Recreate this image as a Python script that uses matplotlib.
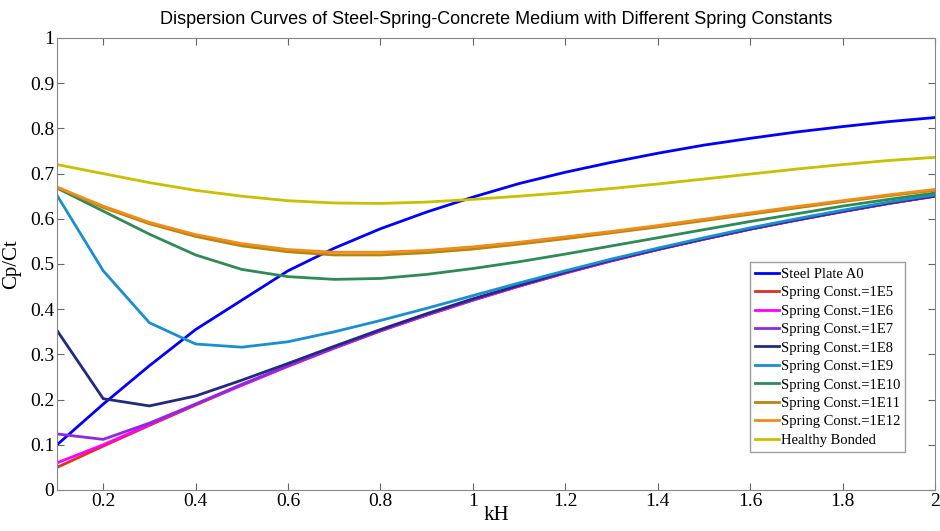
import matplotlib
matplotlib.use("Agg")
import matplotlib.pyplot as plt

kH = [0.1, 0.2, 0.3, 0.4, 0.5, 0.6, 0.7, 0.8, 0.9, 1.0,
      1.1, 1.2, 1.3, 1.4, 1.5, 1.6, 1.7, 1.8, 1.9, 2.0]

steel_a0 = [0.100, 0.190, 0.275, 0.355, 0.420, 0.485, 0.535, 0.578, 0.615, 0.648,
            0.678, 0.703, 0.725, 0.745, 0.763, 0.778, 0.792, 0.804, 0.815, 0.824]
k1e5 = [0.050, 0.097, 0.143, 0.188, 0.232, 0.274, 0.314, 0.352, 0.387, 0.420,
        0.451, 0.480, 0.507, 0.532, 0.555, 0.577, 0.597, 0.616, 0.634, 0.650]
k1e6 = [0.060, 0.100, 0.145, 0.190, 0.232, 0.274, 0.314, 0.352, 0.387, 0.420,
        0.451, 0.480, 0.507, 0.532, 0.555, 0.577, 0.597, 0.616, 0.634, 0.650]
k1e7 = [0.124, 0.112, 0.148, 0.190, 0.234, 0.275, 0.315, 0.353, 0.388, 0.421,
        0.452, 0.481, 0.508, 0.532, 0.555, 0.577, 0.597, 0.616, 0.634, 0.650]
k1e8 = [0.353, 0.202, 0.186, 0.208, 0.243, 0.280, 0.318, 0.355, 0.390, 0.423,
        0.453, 0.482, 0.509, 0.533, 0.556, 0.578, 0.598, 0.617, 0.635, 0.651]
k1e9 = [0.652, 0.485, 0.370, 0.323, 0.316, 0.328, 0.350, 0.375, 0.402, 0.430,
        0.458, 0.485, 0.511, 0.535, 0.558, 0.580, 0.600, 0.619, 0.637, 0.653]
k1e10 = [0.668, 0.617, 0.566, 0.520, 0.488, 0.472, 0.466, 0.468, 0.477, 0.490,
         0.505, 0.522, 0.540, 0.558, 0.576, 0.594, 0.611, 0.628, 0.643, 0.657]
k1e11 = [0.670, 0.625, 0.589, 0.561, 0.540, 0.527, 0.520, 0.520, 0.525, 0.533,
         0.544, 0.556, 0.569, 0.582, 0.596, 0.610, 0.624, 0.638, 0.651, 0.663]
k1e12 = [0.670, 0.628, 0.592, 0.565, 0.545, 0.532, 0.526, 0.526, 0.530, 0.538,
         0.548, 0.560, 0.572, 0.585, 0.599, 0.613, 0.627, 0.640, 0.653, 0.665]
healthy = [0.720, 0.700, 0.680, 0.663, 0.650, 0.640, 0.635, 0.634, 0.637, 0.643,
           0.650, 0.658, 0.667, 0.677, 0.688, 0.699, 0.710, 0.720, 0.729, 0.736]

series = [
    ("Steel Plate A0", steel_a0, "#0000ff"),
    ("Spring Const.=1E5", k1e5, "#e0301e"),
    ("Spring Const.=1E6", k1e6, "#ff00ff"),
    ("Spring Const.=1E7", k1e7, "#8a2be2"),
    ("Spring Const.=1E8", k1e8, "#1f2a80"),
    ("Spring Const.=1E9", k1e9, "#1a8fd0"),
    ("Spring Const.=1E10", k1e10, "#2e8b57"),
    ("Spring Const.=1E11", k1e11, "#b8860b"),
    ("Spring Const.=1E12", k1e12, "#f08c1a"),
    ("Healthy Bonded", healthy, "#c8c000"),
]

serif = "Liberation Serif"

fig = plt.figure(figsize=(9.4, 5.31), dpi=100)
ax = fig.add_axes([57 / 940, 1 - 490 / 531, 878 / 940, 452 / 531])

for name, vals, col in series:
    ax.plot(kH, vals, color=col, lw=2, label=name)

ax.set_xlim(0.1, 2)
ax.set_ylim(0, 1)
ax.set_xticks([0.2, 0.4, 0.6, 0.8, 1, 1.2, 1.4, 1.6, 1.8, 2])
ax.set_xticklabels(["0.2", "0.4", "0.6", "0.8", "1", "1.2", "1.4", "1.6", "1.8", "2"])
ax.set_yticks([i / 10 for i in range(11)])
ax.set_yticklabels(["0", "0.1", "0.2", "0.3", "0.4", "0.5", "0.6", "0.7", "0.8", "0.9", "1"])
ax.tick_params(direction="in", top=True, right=True, length=5, color="#666666",
               labelsize=14, pad=2)
for lab in ax.get_xticklabels() + ax.get_yticklabels():
    lab.set_fontfamily(serif)
for s in ax.spines.values():
    s.set_color("#888888")

ax.set_xlabel("kH", fontsize=15, family=serif, labelpad=-3)
ax.set_ylabel("Cp/Ct", fontsize=15, family=serif, labelpad=6)
ax.set_title("Dispersion Curves of Steel-Spring-Concrete Medium with Different Spring Constants",
             fontsize=13, family="Liberation Sans", pad=10)

leg = ax.legend(loc="lower right", bbox_to_anchor=(1 - 30 / 878, 38 / 452), fancybox=False,
                prop={"family": serif, "size": 10.5}, handlelength=1.65,
                handletextpad=0.1, labelspacing=0.36, borderpad=0.35, borderaxespad=0)
leg.get_frame().set_edgecolor("#888888")
leg.get_frame().set_linewidth(1)

fig.savefig("out.png", dpi=100)
